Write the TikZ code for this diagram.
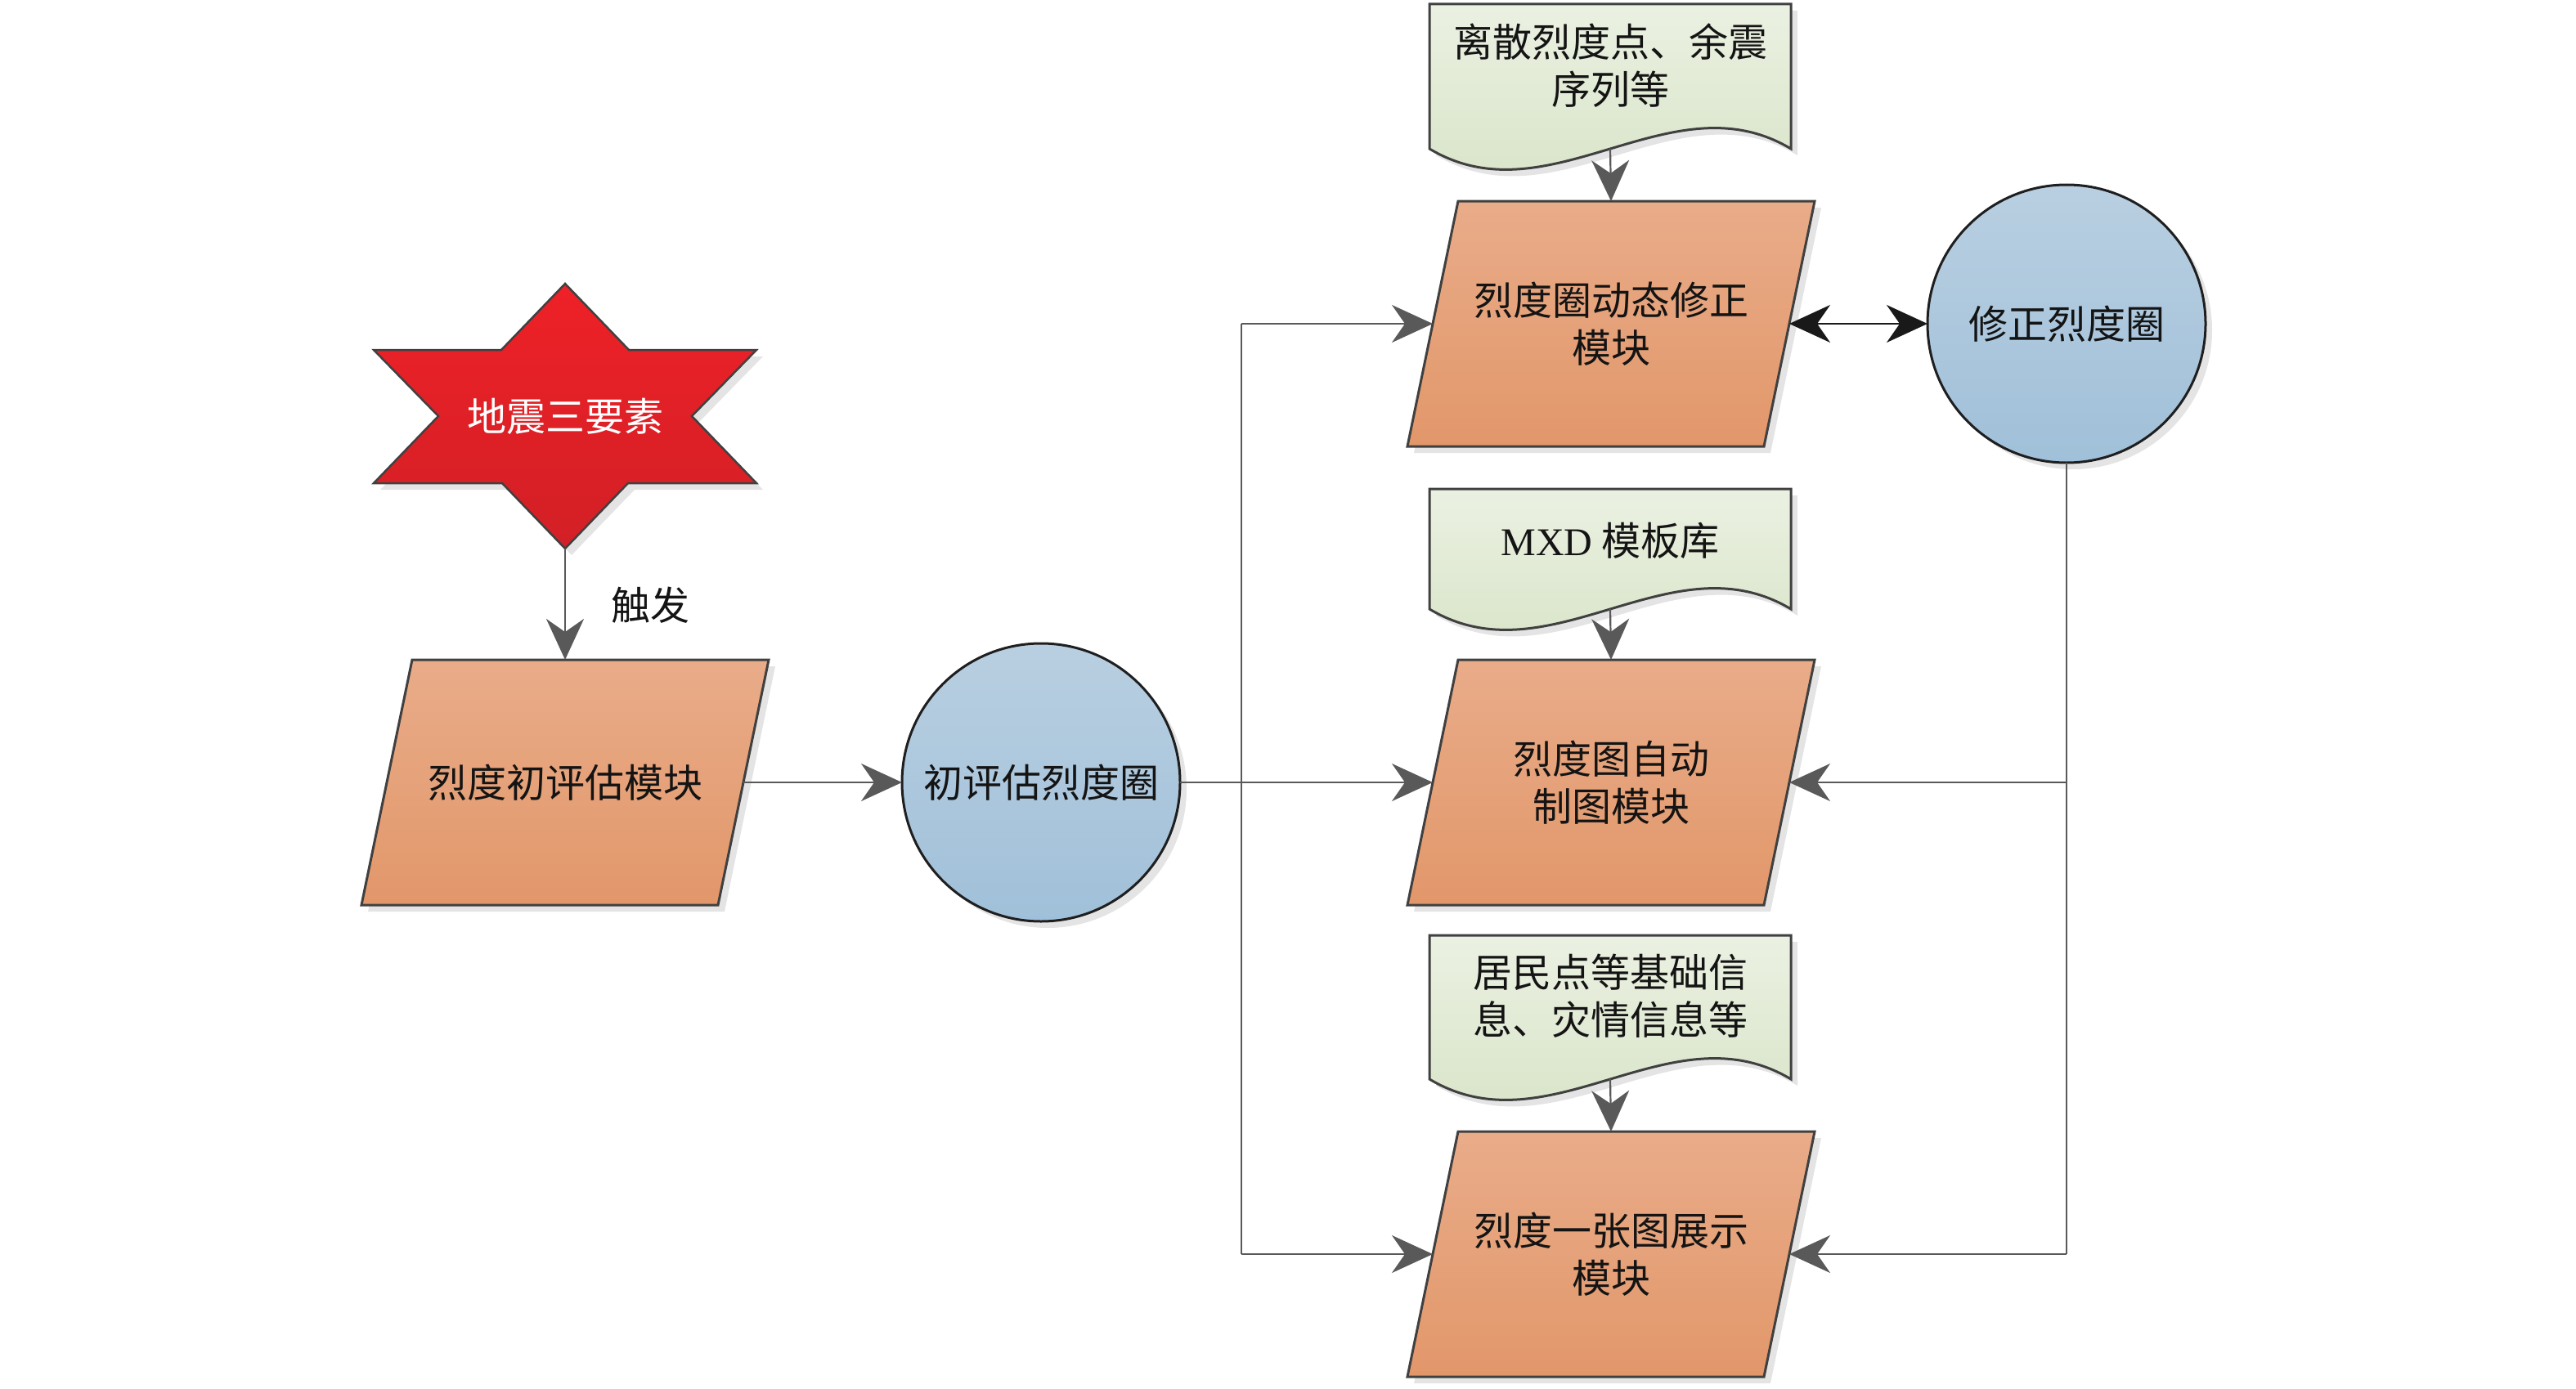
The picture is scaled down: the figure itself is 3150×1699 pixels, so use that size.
\documentclass[tikz,border=0pt]{standalone}
\usepackage{fontspec}
\setmainfont{Liberation Serif}
\newfontfamily\cjkfont{Noto Sans CJK SC}
\usetikzlibrary{shapes.geometric,shadows,arrows.meta,calc}
\definecolor{orTop}{RGB}{233,172,137}
\definecolor{orBot}{RGB}{226,151,106}
\definecolor{blTop}{RGB}{185,207,225}
\definecolor{blBot}{RGB}{160,192,217}
\definecolor{grTop}{RGB}{235,241,226}
\definecolor{grBot}{RGB}{213,226,196}
\definecolor{rdTop}{RGB}{238,33,39}
\definecolor{rdBot}{RGB}{210,32,38}
\definecolor{edge}{RGB}{64,64,64}
\definecolor{lnc}{RGB}{89,89,89}
\definecolor{shd}{RGB}{228,228,228}
\definecolor{txt}{RGB}{20,20,20}
\begin{document}
\begin{tikzpicture}[x=1pt,y=-1pt,
  base/.style={font=\cjkfont\fontsize{48pt}{58pt}\selectfont, text=txt, align=center},
  shdw/.style={drop shadow={shadow xshift=8pt, shadow yshift=-8pt, fill=shd, opacity=1}},
  pbox/.style={minimum width=436pt, minimum height=300pt, inner sep=0pt, outer sep=0pt},
  pfill/.style={draw=edge, line width=3pt, line join=miter, top color=orTop, bottom color=orBot, shdw},
  cnode/.style={base, circle, minimum size=340pt, inner sep=0pt, outer sep=0pt,
    draw=black!88, line width=3pt, top color=blTop, bottom color=blBot, shdw},
  docbox/.style={minimum width=442pt, inner sep=0pt, outer sep=0pt},
  docfill/.style={draw=edge, line width=3pt, top color=grTop, bottom color=grBot, shdw},
  starfill/.style={draw=edge, line width=2.5pt, top color=rdTop, bottom color=rdBot, shdw},
  conn/.style={draw=lnc, line width=2.2pt, -{Stealth[length=50pt,width=46pt,inset=16pt]}},
  plain/.style={draw=lnc, line width=2.2pt},
  dbl/.style={draw=black!90, line width=2.6pt,
    {Stealth[length=50pt,width=46pt,inset=16pt]}-{Stealth[length=50pt,width=46pt,inset=16pt]}}
]
\useasboundingbox (0,0) rectangle (3150,1699);

% star
\path[starfill] (691,347) -- (769,428) -- (925,428) -- (846,509) -- (925,591) -- (768,591)
  -- (691,671) -- (614,591) -- (457,591) -- (536,509) -- (457,428) -- (613,428) -- cycle;
\node[base, text=white, minimum width=468pt, minimum height=324pt, inner sep=0pt] (star) at (691,509) {地震三要素};

% modules (parallelograms)
\node[pbox] (p1) at (691,957) {};
\node[pbox] (p2) at (1970,396) {};
\node[pbox] (p3) at (1970,957) {};
\node[pbox] (p4) at (1970,1534) {};
\foreach \p in {p1,p2,p3,p4}{
  \path[pfill] ($(\p.north west)+(31,0)$) -- ($(\p.north east)+(31,0)$)
    -- ($(\p.south east)+(-31,0)$) -- ($(\p.south west)+(-31,0)$) -- cycle;
}
\node[base] (p1t) at (p1) {烈度初评估模块};
\node[base] (p2t) at (p2) {烈度圈动态修正\\模块};
\node[base] (p3t) at (p3) {烈度图自动\\制图模块};
\node[base] (p4t) at (p4) {烈度一张图展示\\模块};

% circles
\node[cnode] (c1) at (1273,957) {初评估烈度圈};
\node[cnode] (c2) at (2527,396) {修正烈度圈};

% documents
\node[docbox, minimum height=177pt] (d1) at (1969,93.5) {};
\node[docbox, minimum height=147pt] (d2) at (1969,671.5) {};
\node[docbox, minimum height=176pt] (d3) at (1969,1232) {};
\foreach \d in {d1,d2,d3}{
  \path[docfill] (\d.south west) -- (\d.north west) -- (\d.north east) -- (\d.south east)
    .. controls ($(\d.south east)+(-147,-88)$) and ($(\d.south west)+(147,88)$) .. (\d.south west) -- cycle;
}
\node[base] (d1t) at (1969,80) {离散烈度点、余震\\序列等};
\node[base] (d2t) at (1969,661) {{\rmfamily MXD} 模板库};
\node[base] (d3t) at (1969,1218) {居民点等基础信\\息、灾情信息等};

% connectors
\draw[conn] (star.south) -- (p1.north);
\node[base] (trig) at (795,740) {触发};
\draw[conn] (p1.east) -- (c1.west);
\draw[conn] (c1.east) -- (p3.west);
\coordinate (j1) at (1518,957);
\draw[plain] (j1 |- p2.west) -- (j1 |- p4.west);
\draw[conn] (j1 |- p2.west) -- (p2.west);
\draw[conn] (j1 |- p4.west) -- (p4.west);
\draw[plain] (c2.south) -- (c2.south |- p4.east);
\draw[conn] (c2.south |- p3.east) -- (p3.east);
\draw[conn] (c2.south |- p4.east) -- (p4.east);
\draw[dbl] (p2.east) -- (c2.west);
\draw[conn] (d1.south) -- (p2.north);
\draw[conn] (d2.south) -- (p3.north);
\draw[conn] (d3.south) -- (p4.north);
\end{tikzpicture}
\end{document}
